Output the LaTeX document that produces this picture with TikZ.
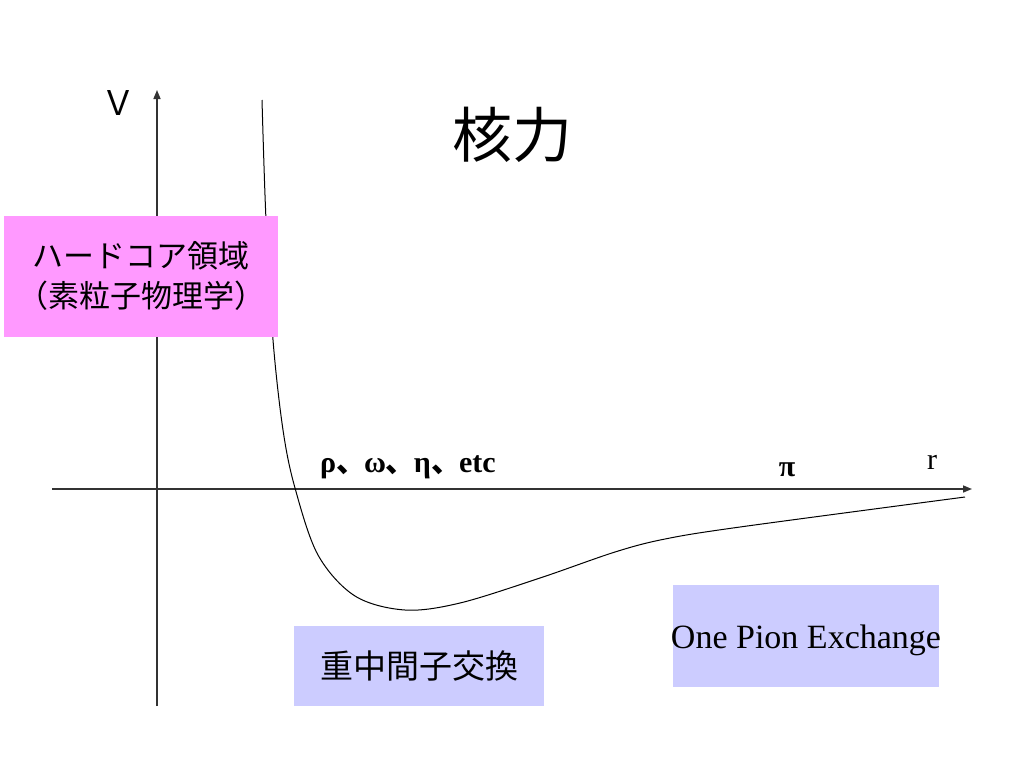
\documentclass[tikz,border=0pt]{standalone}
\usepackage{fontspec}
\setmainfont{Liberation Serif}
\newfontfamily\cjk{Noto Sans CJK JP}
\usetikzlibrary{arrows.meta}
\definecolor{pinkbox}{HTML}{FF99FF}
\definecolor{bluebox}{HTML}{CCCCFF}
\definecolor{axisgray}{HTML}{333333}
\tikzset{
  axisline/.style={draw=axisgray, line width=1.5pt, -{Triangle[length=9pt,width=7pt]}},
  curveline/.style={draw=black, line width=1pt},
  boxnode/.style={inner sep=0pt, outer sep=0pt, align=center},
  lbl/.style={inner sep=0pt, outer sep=0pt, anchor=base},
}
\begin{document}
\begin{tikzpicture}[x=1pt,y=-1pt]
\useasboundingbox[fill=white] (0,0) rectangle (1024,768);
% axes
\coordinate (xs) at (52,489);
\coordinate (xe) at (972,489);
\coordinate (ys) at (157,706);
\coordinate (ye) at (157,90);
\draw[axisline] (xs) -- (xe);
\draw[axisline] (ys) -- (ye);
% potential curve
\draw[curveline] plot[smooth, tension=0.55] coordinates {
  (262,100) (266,220) (273,340) (283,430) (295,488) (318,555) (355,596)
  (405,610) (460,603) (540,578) (615,552) (665,539) (740,527) (965,497)};
% boxes
\node[boxnode, fill=pinkbox, minimum width=274pt, minimum height=121pt,
      font=\cjk\fontsize{31}{40}\selectfont] (hard) at (141,276)
  {ハードコア領域\\[0pt]（素粒子物理学）};
\node[boxnode, fill=bluebox, minimum width=250pt, minimum height=80pt,
      font=\cjk\fontsize{33}{40}\selectfont] (heavy) at (419,666) {重中間子交換};
\node[boxnode, fill=bluebox, minimum width=266pt, minimum height=102pt] (ope) at (806,636) {};
\node[lbl] (opetext) at (806,648) {\fontsize{34}{40}\selectfont One Pion Exchange};
% labels
\node[inner sep=0pt] (title) at (512,135) {\cjk\fontsize{60}{70}\selectfont 核力};
\node[inner sep=0pt] (vlab) at (118,103) {\cjk\fontsize{34}{36}\selectfont Ｖ};
\node[lbl] (rlab) at (932,469) {\fontsize{30}{30}\selectfont r};
\node[lbl] (pilab) at (787,476) {\fontsize{30}{30}\selectfont\bfseries π};
\node[lbl, anchor=base west] (mesons) at (320,472)
  {\fontsize{30}{30}\selectfont\bfseries ρ{\cjk 、}\kern-2ptω{\cjk 、}\kern-2ptη{\cjk 、}\kern-2ptetc};
\end{tikzpicture}
\end{document}
